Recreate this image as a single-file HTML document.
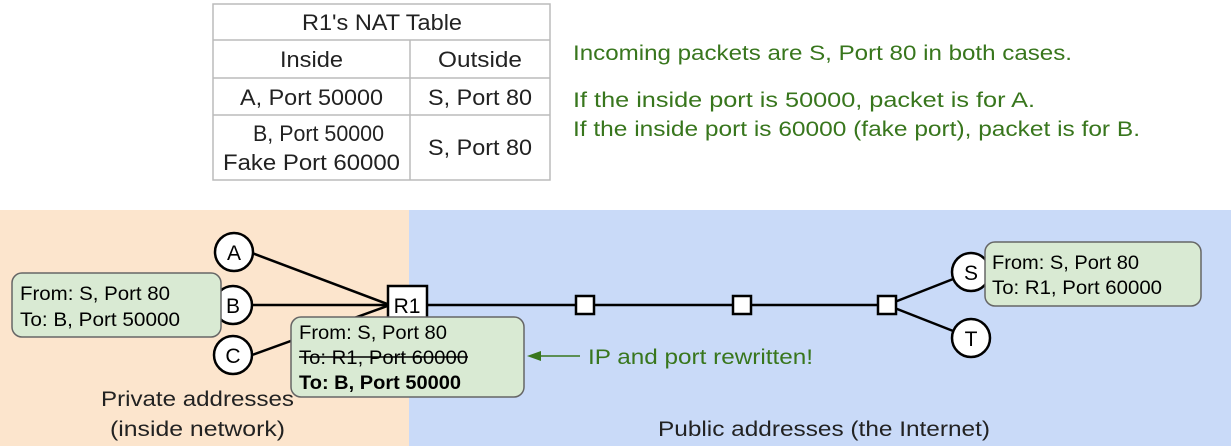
<!DOCTYPE html>
<html><head><style>body{margin:0}svg{display:block}text{font-family:"Liberation Sans",sans-serif}</style></head><body>
<svg width="1231" height="446" viewBox="0 0 1231 446" xmlns="http://www.w3.org/2000/svg">
<rect width="1231" height="446" fill="#fff"/>
<rect x="0" y="210" width="409" height="236" fill="#fce5cd"/>
<rect x="409" y="210" width="822" height="236" fill="#c9daf8"/>
<g fill="none" stroke="#bbb" stroke-width="1.5">
<rect x="213" y="4" width="337" height="176"/>
<line x1="213" y1="40" x2="550" y2="40"/><line x1="213" y1="78" x2="550" y2="78"/><line x1="213" y1="115" x2="550" y2="115"/><line x1="410" y1="40" x2="410" y2="180"/>
</g>
<g font-size="22" fill="#222" lengthAdjust="spacingAndGlyphs">
<text x="302" y="30" textLength="160" lengthAdjust="spacingAndGlyphs">R1's NAT Table</text>
<text x="280" y="67" textLength="63" lengthAdjust="spacingAndGlyphs">Inside</text><text x="438" y="67" textLength="84" lengthAdjust="spacingAndGlyphs">Outside</text>
<text x="240" y="105" textLength="143" lengthAdjust="spacingAndGlyphs">A, Port 50000</text><text x="428" y="105" textLength="104" lengthAdjust="spacingAndGlyphs">S, Port 80</text>
<text x="253" y="141" textLength="131" lengthAdjust="spacingAndGlyphs">B, Port 50000</text><text x="223" y="170" textLength="177" lengthAdjust="spacingAndGlyphs">Fake Port 60000</text><text x="428" y="155" textLength="104" lengthAdjust="spacingAndGlyphs">S, Port 80</text>
</g>
<g font-size="21" fill="#38761d">
<text x="573" y="60" textLength="499" lengthAdjust="spacingAndGlyphs">Incoming packets are S, Port 80 in both cases.</text>
<text x="573" y="107" textLength="462" lengthAdjust="spacingAndGlyphs">If the inside port is 50000, packet is for A.</text>
<text x="573" y="136" textLength="567" lengthAdjust="spacingAndGlyphs">If the inside port is 60000 (fake port), packet is for B.</text>
</g>
<g stroke="#000" stroke-width="2.5">
<line x1="252" y1="253" x2="390" y2="305"/>
<line x1="252" y1="305" x2="390" y2="305"/>
<line x1="252" y1="355" x2="390" y2="305"/>
<line x1="427" y1="305" x2="887" y2="305"/>
<line x1="887" y1="305" x2="971" y2="272"/>
<line x1="887" y1="305" x2="971" y2="338"/>
</g>
<g fill="#fff" stroke="#000" stroke-width="2.5">
<circle cx="234" cy="252" r="19"/><circle cx="233" cy="305" r="19"/><circle cx="233" cy="355" r="19"/>
<circle cx="971" cy="272" r="19"/><circle cx="971" cy="338" r="19"/>
<rect x="388" y="286" width="39" height="38"/>
<rect x="576" y="296" width="18" height="18"/><rect x="733" y="296" width="18" height="18"/><rect x="878" y="296" width="18" height="18"/>
</g>
<g font-size="21" fill="#000" text-anchor="middle">
<text x="234" y="260">A</text><text x="233" y="313">B</text><text x="233" y="363">C</text>
<text x="971" y="280">S</text><text x="971" y="346">T</text><text x="407" y="313">R1</text>
</g>
<g fill="#d9ead3" stroke="#666" stroke-width="1.5">
<rect x="12" y="273" width="209" height="64" rx="10"/>
<rect x="291" y="317" width="233" height="80" rx="10"/>
<rect x="985" y="242" width="216" height="64" rx="10"/>
</g>
<g font-size="19" fill="#000">
<text x="20" y="300" textLength="150" lengthAdjust="spacingAndGlyphs">From: S, Port 80</text><text x="20" y="326" textLength="160" lengthAdjust="spacingAndGlyphs">To: B, Port 50000</text>
<text x="299" y="339" textLength="148" lengthAdjust="spacingAndGlyphs">From: S, Port 80</text>
<text x="299" y="364" textLength="169" lengthAdjust="spacingAndGlyphs">To: R1, Port 60000</text>
<line x1="299" y1="357" x2="468" y2="357" stroke="#000" stroke-width="1.5"/>
<text x="299" y="389" font-weight="bold" textLength="162" lengthAdjust="spacingAndGlyphs">To: B, Port 50000</text>
<text x="992" y="269" textLength="147" lengthAdjust="spacingAndGlyphs">From: S, Port 80</text><text x="992" y="294" textLength="170" lengthAdjust="spacingAndGlyphs">To: R1, Port 60000</text>
</g>
<line x1="540" y1="356" x2="580" y2="356" stroke="#38761d" stroke-width="1.5"/>
<polygon points="527,356 541,351 541,361" fill="#38761d"/>
<text x="588" y="364" font-size="21" fill="#38761d" textLength="225" lengthAdjust="spacingAndGlyphs">IP and port rewritten!</text>
<g font-size="21" fill="#222">
<text x="101" y="406" textLength="193" lengthAdjust="spacingAndGlyphs">Private addresses</text><text x="110" y="436" textLength="175" lengthAdjust="spacingAndGlyphs">(inside network)</text>
<text x="658" y="436" textLength="332" lengthAdjust="spacingAndGlyphs">Public addresses (the Internet)</text>
</g>
</svg>
</body></html>
